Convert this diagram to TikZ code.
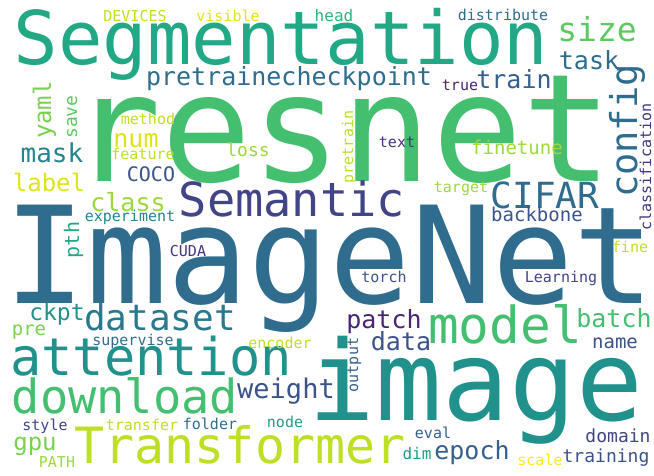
\documentclass[tikz,border=0pt]{standalone}
\usepackage{fontspec}
\setmainfont{DejaVu Sans Mono}
% viridis stops
\definecolor{vir10}{HTML}{482475}
\definecolor{vir15}{HTML}{463480}
\definecolor{vir20}{HTML}{414487}
\definecolor{vir25}{HTML}{3B528B}
\definecolor{vir30}{HTML}{355F8D}
\definecolor{vir35}{HTML}{2F6C8E}
\definecolor{vir40}{HTML}{2A788E}
\definecolor{vir45}{HTML}{25848E}
\definecolor{vir50}{HTML}{21918C}
\definecolor{vir55}{HTML}{1E9C89}
\definecolor{vir60}{HTML}{22A884}
\definecolor{vir65}{HTML}{2FB47C}
\definecolor{vir70}{HTML}{44BF70}
\definecolor{vir75}{HTML}{5EC962}
\definecolor{vir80}{HTML}{7AD151}
\definecolor{vir85}{HTML}{9BD93C}
\definecolor{vir90}{HTML}{BDDF26}
\definecolor{vir95}{HTML}{DFE318}
\definecolor{vir100}{HTML}{FDE725}
\tikzset{
  word/.style={inner sep=0pt, anchor=base}
}
\begin{document}
\begin{tikzpicture}[x=1pt, y=-1pt]
    % canvas
    \fill [white] (0, 0) rectangle (654, 476);
    \useasboundingbox (0, 0) rectangle (654, 476);
    % horizontal words: centre x / baseline y / size / colour / text
    \foreach \x/\y/\s/\col/\w in {
      281/65/74/vir60/Segmentation,
      342/182/150/vir70/resnet,
      330/303/135/vir35/ImageNet,
      476/420/111/vir50/image,
      240/463/50/vir90/Transformer,
      151/375/52/vir50/attention,
      125/413/47/vir70/download,
      292/217/47/vir20/Semantic,
      505/343/51/vir70/model,
      545/208/36/vir35/CIFAR,
      597/42/33/vir75/size,
      589/70/25/vir35/task,
      289/86/25/vir35/pretrainecheckpoint,
      514/89/25/vir30/train,
      460/91/15/vir10/true,
      160/330/36/vir40/dataset,
      286/398/27/vir25/weight,
      384/328/25/vir10/patch,
      614/327/25/vir70/batch,
      401/350/25/vir25/data,
      472/459/25/vir30/epoch,
      57/320/23/vir50/ckpt,
      52/163/26/vir45/mask,
      49/192/24/vir95/label,
      148/125/15/vir90/method,
      136/148/25/vir95/num,
      248/157/18/vir85/loss,
      143/160/15/vir90/feature,
      151/182/20/vir25/COCO,
      128/212/25/vir85/class,
      461/193/15/vir85/target,
      517/155/19/vir85/finetune,
      397/148/15/vir15/text,
      537/222/19/vir25/backbone,
      130/222/15/vir45/experiment,
      188/257/15/vir15/CUDA,
      630/253/15/vir90/fine,
      384/283/15/vir25/torch,
      561/282/15/vir20/Learning,
      29/335/19/vir80/pre,
      133/345/15/vir35/supervise,
      280/348/15/vir90/encoder,
      45/430/15/vir20/style,
      142/430/15/vir90/transfer,
      210/429/15/vir35/folder,
      285/427/15/vir55/node,
      35/450/24/vir80/gpu,
      57/467/15/vir85/PATH,
      433/438/15/vir30/eval,
      417/459/16/vir55/dim,
      618/442/18/vir20/domain,
      606/462/18/vir25/training,
      540/465/15/vir100/scale,
      615/348/19/vir25/name,
      135/22/15/vir90/DEVICES,
      228/22/15/vir95/visible,
      334/22/16/vir65/head,
      503/21/15/vir35/distribute} {
      \node [word, text=\col, font=\fontsize{\s}{\s}\selectfont] (w-\w) at (\x, \y) {\w};
    }
    % vertical words: baseline x / centre y / size / colour / text
    \foreach \x/\y/\s/\col/\w in {
      637/131/37/vir35/config,
      51/110/24/vir80/yaml,
      77/117/18/vir75/save,
      353/147/15/vir90/pretrain,
      651/167/15/vir15/classification,
      79/240/20/vir60/pth,
      358/365/15/vir30/output} {
      \node [word, rotate=90, text=\col, font=\fontsize{\s}{\s}\selectfont] (w-\w) at (\x, \y) {\w};
    }
  \end{tikzpicture}
\end{document}
